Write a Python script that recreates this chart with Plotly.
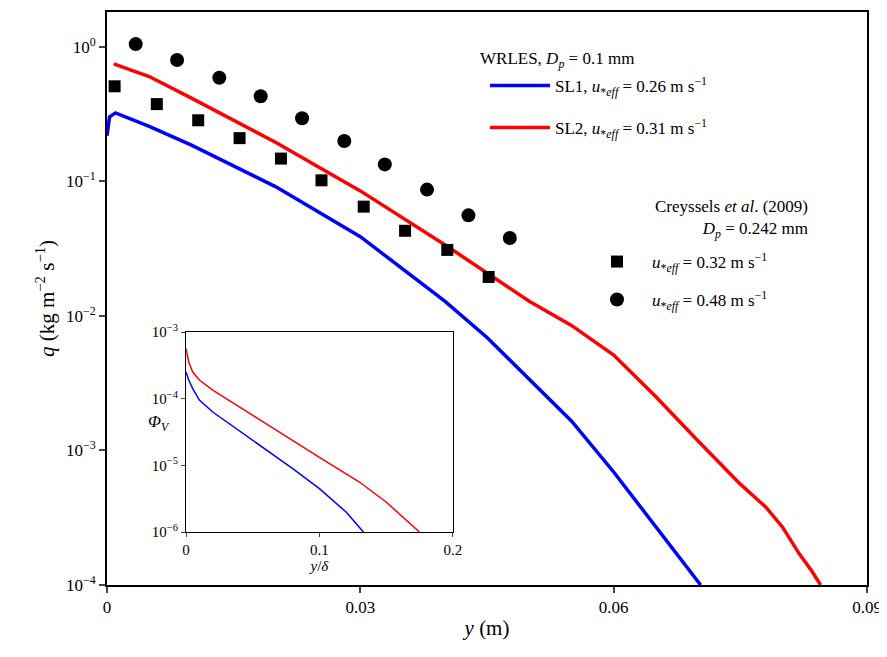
import plotly.graph_objects as go

# main panel data
sq_y = [0.0009, 0.0059, 0.0108, 0.0157, 0.0206, 0.0254, 0.0304, 0.0353, 0.0403, 0.0452]
sq_q = [0.51, 0.376, 0.285, 0.21, 0.148, 0.102, 0.065, 0.043, 0.031, 0.0195]
ci_y = [0.0034, 0.0083, 0.0133, 0.0182, 0.0231, 0.0281, 0.0329, 0.0379, 0.0428, 0.0477]
ci_q = [1.05, 0.80, 0.59, 0.43, 0.295, 0.20, 0.134, 0.087, 0.056, 0.038]

sl1_y = [0.0, 0.0003, 0.001, 0.005, 0.01, 0.02, 0.03, 0.04, 0.045, 0.05, 0.055, 0.06, 0.065, 0.0703]
sl1_logq = [-0.66, -0.52, -0.49, -0.59, -0.73, -1.04, -1.41, -1.89, -2.16, -2.47, -2.78, -3.16, -3.57, -4.0]
sl2_y = [0.0008, 0.005, 0.01, 0.02, 0.03, 0.04, 0.05, 0.055, 0.06, 0.065, 0.07, 0.075,
         0.078, 0.08, 0.082, 0.0835, 0.0845]
sl2_logq = [-0.125, -0.22, -0.38, -0.71, -1.07, -1.47, -1.89, -2.07, -2.29, -2.60, -2.93, -3.25,
            -3.42, -3.57, -3.77, -3.90, -4.0]

# inset data
in1_x = [0.0, 0.002, 0.005, 0.01, 0.02, 0.05, 0.08, 0.1, 0.12, 0.133]
in1_log = [-3.6, -3.72, -3.85, -4.02, -4.2, -4.62, -5.05, -5.35, -5.7, -6.0]
in2_x = [0.0, 0.002, 0.005, 0.01, 0.02, 0.05, 0.1, 0.13, 0.15, 0.175]
in2_log = [-3.25, -3.45, -3.6, -3.72, -3.87, -4.25, -4.88, -5.25, -5.55, -6.0]

font = dict(family="Liberation Serif", size=17, color="black")
fig = go.Figure()

fig.add_trace(go.Scatter(x=sl1_y, y=[10 ** v for v in sl1_logq], mode="lines",
                         line=dict(color="#0000ff", width=3.5), legend="legend",
                         name="SL1, <i>u</i><sub>*<i>eff</i></sub> = 0.26 m s<sup>−1</sup>"))
fig.add_trace(go.Scatter(x=sl2_y, y=[10 ** v for v in sl2_logq], mode="lines",
                         line=dict(color="#ff0000", width=3.5), legend="legend2",
                         name="SL2, <i>u</i><sub>*<i>eff</i></sub> = 0.31 m s<sup>−1</sup>"))
fig.add_trace(go.Scatter(x=sq_y, y=sq_q, mode="markers", legend="legend3",
                         marker=dict(symbol="square", size=12, color="black"),
                         name="<i>u</i><sub>*<i>eff</i></sub> = 0.32 m s<sup>−1</sup>"))
fig.add_trace(go.Scatter(x=ci_y, y=ci_q, mode="markers", legend="legend4",
                         marker=dict(symbol="circle", size=14, color="black"),
                         name="<i>u</i><sub>*<i>eff</i></sub> = 0.48 m s<sup>−1</sup>"))

fig.add_trace(go.Scatter(x=in1_x, y=[10 ** v for v in in1_log], mode="lines", xaxis="x2", yaxis="y2",
                         line=dict(color="#0000ff", width=1.5), showlegend=False))
fig.add_trace(go.Scatter(x=in2_x, y=[10 ** v for v in in2_log], mode="lines", xaxis="x2", yaxis="y2",
                         line=dict(color="#ff0000", width=1.5), showlegend=False))

def px(x, y):
    return (x - 107) / 760, 1 - (y - 12) / 573

leg = dict(bgcolor="rgba(0,0,0,0)", font=font, itemwidth=60, xanchor="left", yanchor="middle")
l1 = px(485, 86); l2 = px(485, 128); l3 = px(582, 262); l4 = px(582, 300)
ax = dict(showline=True, linewidth=2, linecolor="black", mirror=True, ticks="outside",
          tickwidth=2, ticklen=6, showgrid=False, zeroline=False, tickfont=font, automargin=False)
sax = dict(showline=True, linewidth=1.2, linecolor="black", mirror=True, ticks="outside",
           tickwidth=1.2, ticklen=4, showgrid=False, zeroline=False, automargin=False,
           tickfont=dict(family="Liberation Serif", size=15, color="black"))

fig.update_layout(
    width=887, height=657, plot_bgcolor="white", paper_bgcolor="white",
    margin=dict(l=99, r=28, t=4, b=80), font=font,
    legend=dict(x=l1[0], y=l1[1], **leg),
    legend2=dict(x=l2[0], y=l2[1], **leg),
    legend3=dict(x=l3[0], y=l3[1], **leg),
    legend4=dict(x=l4[0], y=l4[1], **leg),
    xaxis=dict(range=[0, 0.09], tickvals=[0, 0.03, 0.06, 0.09], ticktext=["0", "0.03", "0.06", "0.09"],
               title=dict(text="<i>y</i> (m)", font=dict(family="Liberation Serif", size=21), standoff=4), **ax),
    yaxis=dict(type="log", range=[-4, 0.26], tickvals=[1, 0.1, 0.01, 0.001, 0.0001],
               ticktext=["10<sup>0</sup>", "10<sup>−1</sup>", "10<sup>−2</sup>", "10<sup>−3</sup>", "10<sup>−4</sup>"],
               title=dict(text="<i>q</i> (kg m<sup>−2</sup> s<sup>−1</sup>)",
                          font=dict(family="Liberation Serif", size=21), standoff=6), **ax),
    xaxis2=dict(domain=[0.104, 0.455], anchor="y2", range=[0, 0.2], tickvals=[0, 0.1, 0.2],
                ticktext=["0", "0.1", "0.2"],
                title=dict(text="<i>y</i>/<i>δ</i>", font=dict(family="Liberation Serif", size=15), standoff=0), **sax),
    yaxis2=dict(domain=[0.0925, 0.4415], anchor="x2", type="log", range=[-6, -3],
                tickvals=[1e-3, 1e-4, 1e-5, 1e-6],
                ticktext=["10<sup>−3</sup>", "10<sup>−4</sup>", "10<sup>−5</sup>", "10<sup>−6</sup>"], **sax),
)

fig.add_annotation(x=px(478, 47)[0], y=px(478, 47)[1], xref="paper", yref="paper", xanchor="left",
                   showarrow=False, font=font, text="WRLES, <i>D<sub>p</sub></i> = 0.1 mm")
fig.add_annotation(x=px(810, 195)[0], y=px(810, 195)[1], xref="paper", yref="paper", xanchor="right",
                   showarrow=False, font=font, align="right",
                   text="Creyssels <i>et al</i>. (2009)<br><i>D<sub>p</sub></i> = 0.242 mm")
fig.add_annotation(x=px(146, 436)[0], y=px(146, 436)[1], xref="paper", yref="paper", xanchor="left",
                   showarrow=False, font=dict(family="Liberation Serif", size=17),
                   text="<i>Φ<sub>V</sub></i>")
fig.add_shape(type="rect", xref="paper", yref="paper", x0=0.104, x1=0.455, y0=0.0925, y1=0.4415,
              fillcolor="white", line=dict(width=0), layer="below")

fig.write_html("out.html")
